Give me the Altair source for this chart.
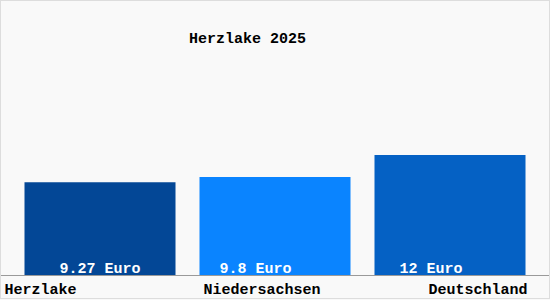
import altair as alt
import pandas as pd

categories = ["Herzlake", "Niedersachsen", "Deutschland"]
values = [9.27, 9.8, 12]
value_labels = ["9.27 Euro", "9.8 Euro", "12 Euro"]
colors = ["#034796", "#0a84ff", "#0561c4"]
title_text = "Herzlake 2025"

df = pd.DataFrame({"cat": categories, "val": values, "label": value_labels})

FONT = "Liberation Mono"
WEIGHT = "bold"

xscale = alt.Scale(domain=categories, paddingInner=24 / 175, paddingOuter=0.14)
yscale = alt.Scale(domain=[0, 22.5], nice=False, zero=True)

x_enc = alt.X(
    "cat:N",
    sort=categories,
    scale=xscale,
    title=None,
    axis=alt.Axis(
        domainColor="#9a9a9a",
        domainWidth=1,
        ticks=False,
        tickSize=0,
        labelAngle=0,
        labelFont=FONT,
        labelFontSize=15,
        labelFontWeight=WEIGHT,
        labelColor="#000000",
        labelBaseline="alphabetic",
        labelPadding=18,
        labelAlign={
            "condition": {"test": "datum.value == 'Niedersachsen' || datum.value == 'Herzlake'", "value": "left"},
            "value": "right",
        },
        labelOffset={
            "condition": [
                {"test": "datum.value == 'Herzlake'", "value": -95.5},
                {"test": "datum.value == 'Niedersachsen'", "value": -71.5},
            ],
            "value": 77.5,
        },
        grid=False,
    ),
)

base = alt.Chart(df)

bars = base.mark_bar().encode(
    x=x_enc,
    y=alt.Y("val:Q", scale=yscale, axis=None),
    color=alt.Color("cat:N", scale=alt.Scale(domain=categories, range=colors), legend=None),
)

label_dx = {"Herzlake": -40.5, "Niedersachsen": -55.5, "Deutschland": -50.5}
label_layers = []
for c in categories:
    label_layers.append(
        base.transform_filter(alt.datum.cat == c)
        .mark_text(
            font=FONT, fontSize=15, fontWeight=WEIGHT, color="#ffffff", align="left",
            baseline="alphabetic", dx=label_dx[c], dy=-2,
        )
        .encode(
            x=alt.X("cat:N", sort=categories, scale=xscale),
            y=alt.YDatum(0),
            text="label:N",
        )
    )

title_layer = alt.Chart(pd.DataFrame({"t": [title_text]})).mark_text(
    font=FONT, fontSize=15, fontWeight=WEIGHT, color="#000000",
    align="left", baseline="alphabetic",
).encode(x=alt.value(189), y=alt.value(-7.5), text="t:N")

border = alt.Chart(df).mark_rect(fill=None, stroke="#dddddd", strokeWidth=1).encode(
    x=alt.value(0.5), x2=alt.value(549.5), y=alt.value(-49.5), y2=alt.value(248.5)
)

chart = (
    alt.layer(border, bars, *label_layers, title_layer)
    .properties(
        width=550,
        height=225,
        padding={"left": 0, "top": 50, "right": 0, "bottom": 25},
        autosize=alt.AutoSizeParams(type="none"),
        background="#f9f9f9",
    )
    .configure_view(stroke=None)
)

chart.save("out.html", embed_options={"renderer": "svg", "actions": False})
